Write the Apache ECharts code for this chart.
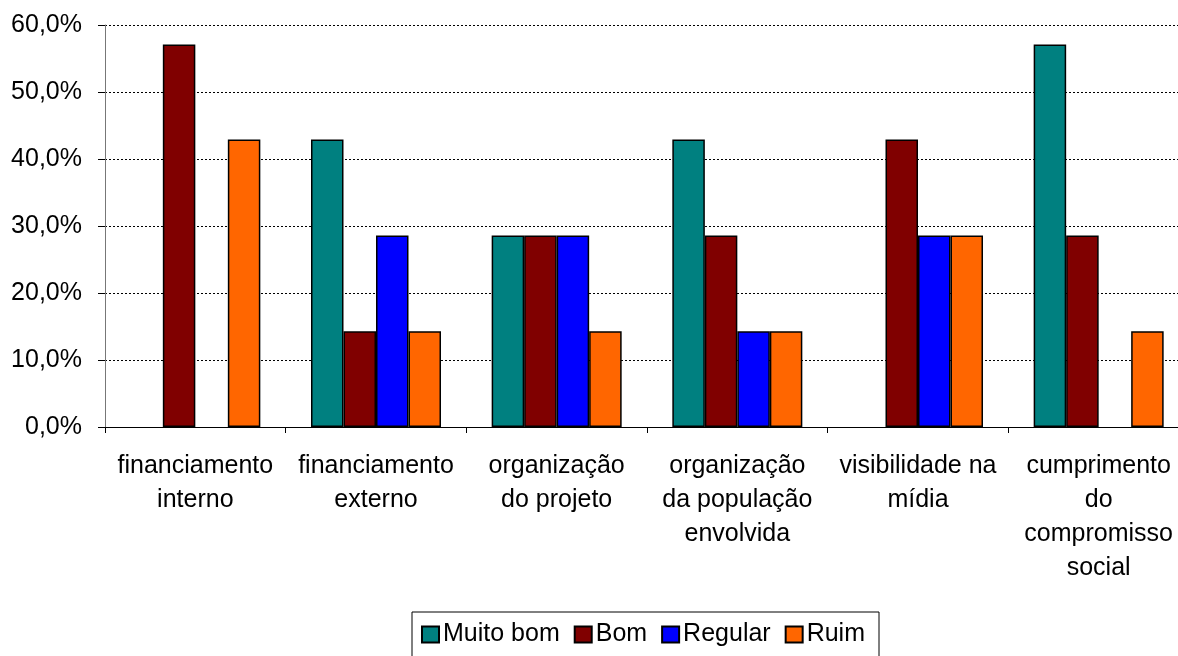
<!DOCTYPE html>
<html>
<head>
<meta charset="utf-8">
<script src="https://cdn.jsdelivr.net/npm/echarts@6/dist/echarts.min.js"></script>
<style>
  html, body { margin: 0; padding: 0; background: #fff; }
  #chart { width: 1178px; height: 656px; }
</style>
</head>
<body>
<div id="chart"></div>
<script>
// Avaliação por aspecto (percentual de respostas)
const categories = [
  'financiamento\ninterno',
  'financiamento\nexterno',
  'organização\ndo projeto',
  'organização\nda população\nenvolvida',
  'visibilidade na\nmídia',
  'cumprimento\ndo\ncompromisso\nsocial'
];
const seriesNames = ['Muito bom', 'Bom', 'Regular', 'Ruim'];
const muitoBom = [0, 42.9, 28.6, 42.9, 0, 57.1];
const bom      = [57.1, 14.3, 28.6, 28.6, 42.9, 28.6];
const regular  = [0, 28.6, 28.6, 14.3, 28.6, 0];
const ruim     = [42.9, 14.3, 14.3, 14.3, 28.6, 14.3];
const yTicks = { min: 0, max: 60, interval: 10 };

const colors = ['#008080', '#800000', '#0000FF', '#FF6600'];
const values = [muitoBom, bom, regular, ruim];
const font = 'Liberation Sans, Arial, sans-serif';

const chart = echarts.init(document.getElementById('chart'), null, { renderer: 'canvas' });
chart.setOption({
  animation: false,
  backgroundColor: '#ffffff',
  textStyle: { fontFamily: font },
  // plot area runs slightly past the right edge of the canvas
  grid: {
    left: 105, width: 1084, top: 25, height: 402,
    containLabel: false,
    outerBoundsMode: 'none'
  },
  legend: {
    data: seriesNames,
    left: 412,
    top: 612,
    padding: [10, 14, 10, 9],
    itemGap: 14,
    itemWidth: 17,
    itemHeight: 16,
    borderColor: '#000',
    borderWidth: 1,
    textStyle: { fontSize: 25, color: '#000', fontFamily: font, padding: [0, 0, 0, -1] },
    icon: 'rect'
  },
  xAxis: {
    type: 'category',
    data: categories,
    axisLine: { lineStyle: { color: '#000', width: 1 } },
    axisTick: { show: true, length: 6, lineStyle: { color: '#000' } },
    axisLabel: {
      interval: 0,
      fontSize: 25,
      lineHeight: 34,
      color: '#000',
      margin: 22,
      fontFamily: font
    }
  },
  yAxis: {
    type: 'value',
    min: yTicks.min,
    max: yTicks.max,
    interval: yTicks.interval,
    axisLine: { show: true, lineStyle: { color: '#777', width: 1 } },
    axisTick: { show: true, length: 7, lineStyle: { color: '#000' } },
    axisLabel: {
      fontSize: 25,
      color: '#000',
      margin: 23,
      fontFamily: font,
      formatter: v => v.toFixed(1).replace('.', ',') + '%'
    },
    splitLine: { show: true, lineStyle: { color: '#000', type: [2, 2], width: 1 } }
  },
  series: seriesNames.map((name, i) => ({
    name,
    type: 'bar',
    // empty answers draw no bar at all
    data: values[i].map(v => (v === 0 ? '-' : v)),
    barWidth: 32.5,
    barGap: '0%',
    itemStyle: { color: colors[i], borderColor: '#000', borderWidth: 1.5 }
  }))
});
</script>
</body>
</html>
